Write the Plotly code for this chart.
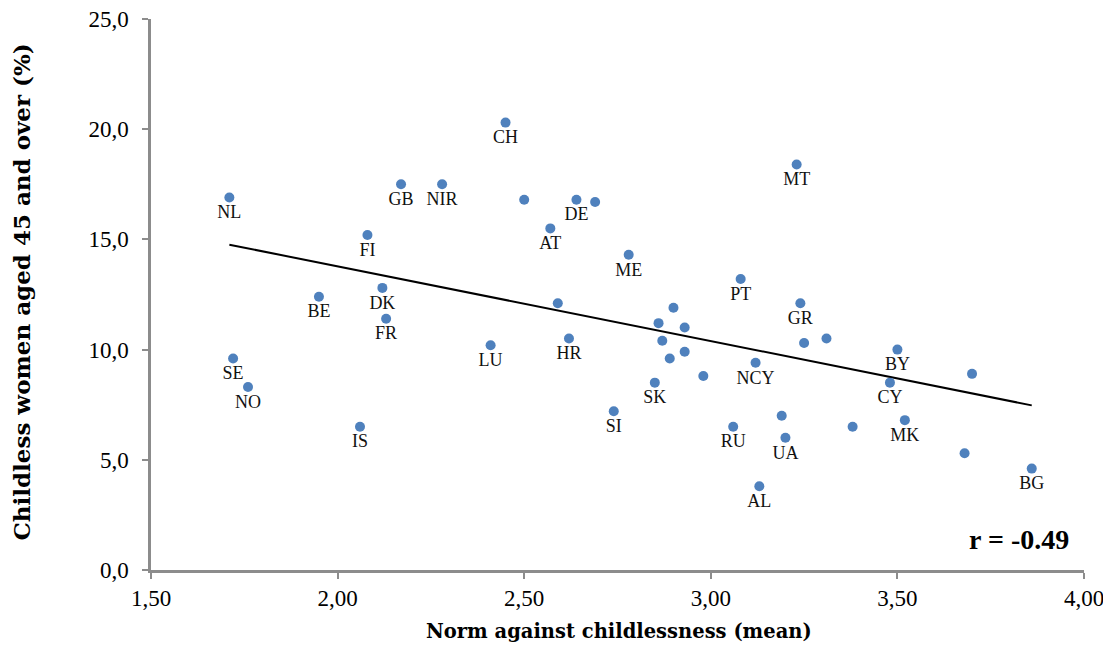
import plotly.graph_objects as go

# Norm against childlessness (mean), childless women aged 45+ (%), country label
norm_mean = [2.45, 2.17, 2.28, 1.71, 2.50, 2.64, 2.69, 2.57, 2.08, 2.12,
             1.95, 2.13, 2.59, 2.62, 2.41, 3.23, 2.78, 3.08, 3.24, 2.90,
             2.86, 2.93, 2.87, 2.93, 2.89, 2.98, 2.85, 3.12, 3.25, 3.31,
             3.50, 3.48, 3.70, 1.72, 1.76, 2.06, 2.74, 3.06, 3.19, 3.20,
             3.13, 3.38, 3.52, 3.68, 3.86]
childless = [20.3, 17.5, 17.5, 16.9, 16.8, 16.8, 16.7, 15.5, 15.2, 12.8,
             12.4, 11.4, 12.1, 10.5, 10.2, 18.4, 14.3, 13.2, 12.1, 11.9,
             11.2, 11.0, 10.4, 9.9, 9.6, 8.8, 8.5, 9.4, 10.3, 10.5,
             10.0, 8.5, 8.9, 9.6, 8.3, 6.5, 7.2, 6.5, 7.0, 6.0,
             3.8, 6.5, 6.8, 5.3, 4.6]
country = ["CH", "GB", "NIR", "NL", "", "DE", "", "AT", "FI", "DK",
           "BE", "FR", "", "HR", "LU", "MT", "ME", "PT", "GR", "",
           "", "", "", "", "", "", "SK", "NCY", "", "",
           "BY", "CY", "", "SE", "NO", "IS", "SI", "RU", "", "UA",
           "AL", "", "MK", "", "BG"]

# Linear trend line endpoints
trend_x = [1.71, 3.86]
trend_y = [14.76, 7.47]

x_ticks = [1.5, 2.0, 2.5, 3.0, 3.5, 4.0]
y_ticks = [0, 5, 10, 15, 20, 25]

serif = "Liberation Serif, DejaVu Serif, serif"
title_serif = "DejaVu Serif, Liberation Serif, serif"
axis_grey = "#8c8c8c"

fig = go.Figure()
fig.add_trace(go.Scatter(
    x=trend_x, y=trend_y, mode="lines",
    line=dict(color="black", width=2), hoverinfo="skip", showlegend=False))
fig.add_trace(go.Scatter(
    x=norm_mean, y=childless, mode="markers+text",
    text=country, textposition="bottom center",
    textfont=dict(family=serif, size=18, color="#111111"),
    marker=dict(color="#4F81BD", size=10),
    showlegend=False, cliponaxis=False))

fig.add_annotation(
    x=0.986, y=0.055, xref="paper", yref="paper", xanchor="right", yanchor="middle",
    text="<b>r = -0.49</b>", showarrow=False,
    font=dict(family=serif, size=28, color="black"))

fig.add_annotation(
    x=0.5016, y=-0.1115, xref="paper", yref="paper", xanchor="center", yanchor="middle",
    text="<b>Norm against childlessness (mean)</b>", showarrow=False,
    font=dict(family=title_serif, size=19.5, color="black"))

fig.add_annotation(
    x=-0.1383, y=0.5054, xref="paper", yref="paper", xanchor="center", yanchor="middle",
    text="<b>Childless women aged 45 and over (%)</b>", showarrow=False, textangle=-90,
    font=dict(family=title_serif, size=23, color="black"))

fig.update_layout(
    width=1095, height=637,
    margin=dict(l=143, r=19, t=11, b=75),
    paper_bgcolor="white", plot_bgcolor="white",
    separators=", ",
    font=dict(family=serif, color="black"),
    xaxis=dict(
        range=[1.5, 4.0], tickvals=x_ticks, tickformat=".2f",
        showgrid=False, zeroline=False, automargin=False,
        ticklabeloverflow="allow",
        showline=True, linecolor=axis_grey, linewidth=2.5,
        ticks="outside", ticklen=6, tickcolor=axis_grey, tickwidth=1.5,
        tickfont=dict(family=serif, size=23)),
    yaxis=dict(
        range=[0, 25], tickvals=y_ticks, tickformat=".1f",
        showgrid=False, zeroline=False, automargin=False,
        ticklabeloverflow="allow", ticklabelstandoff=9,
        showline=True, linecolor=axis_grey, linewidth=2.5,
        ticks="outside", ticklen=6, tickcolor=axis_grey, tickwidth=1.5,
        tickfont=dict(family=serif, size=23)),
)

fig.write_html("out.html")
